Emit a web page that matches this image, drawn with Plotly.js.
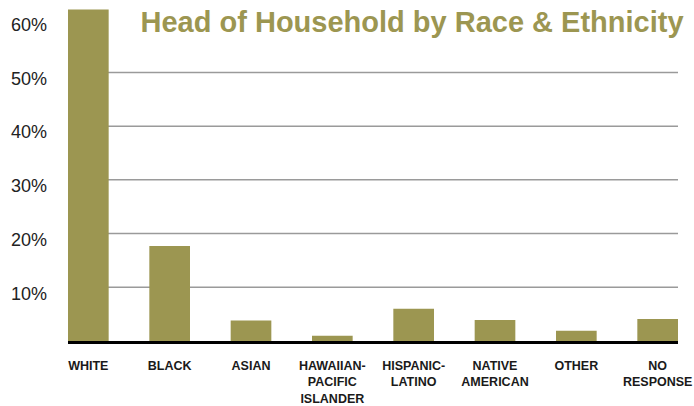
<!DOCTYPE html>
<html><head><meta charset="utf-8">
<script src="https://cdn.plot.ly/plotly-3.0.1.min.js"></script>
<style>html,body{margin:0;padding:0;background:#fff}#chart{width:694px;height:406px}</style>
</head><body><div id="chart"></div>
<script>
const categories = ["WHITE","BLACK","ASIAN","HAWAIIAN-<br>PACIFIC<br>ISLANDER","HISPANIC-<br>LATINO","NATIVE<br>AMERICAN","OTHER","NO<br>RESPONSE"];
const shares = [61.7, 17.7, 3.8, 1.0, 6.0, 3.9, 1.9, 4.1];
const tickValues = [10, 20, 30, 40, 50, 60];
const tickLabels = ["10%","20%","30%","40%","50%","60%"];
const gridValues = [10, 20, 30, 40, 50];
const olive = "#9c9651";

const trace = {
  type: "bar", x: categories.map((c,i)=>i), y: shares,
  marker: {color: olive}, width: 0.5, hoverinfo: "skip"
};
const shapes = gridValues.map(v => ({
  type: "line", xref: "paper", x0: 0, x1: 1, yref: "y", y0: v, y1: v,
  line: {color: "#9a9a9a", width: 1.5}, layer: "below"
}));
const layout = {
  width: 694, height: 406,
  margin: {l: 68, r: 16, t: 8, b: 65},
  paper_bgcolor: "#fff", plot_bgcolor: "#fff",
  showlegend: false,
  title: {text: "<b>Head of Household by Race & Ethnicity</b>", x: 0.985, xanchor: "right", xref: "container", y: 0.945, yanchor: "middle", yref: "container",
    font: {family: "Liberation Sans Narrow, Liberation Sans, Arial, sans-serif", size: 29, color: olive}},
  xaxis: {range: [-0.25, 7.25], tickvals: categories.map((c,i)=>i), ticktext: categories,
    showgrid: false, zeroline: false, showline: true, linecolor: "#000", linewidth: 3,
    ticks: "", ticklabelstandoff: 11, tickangle: 0,
    tickfont: {family: "Liberation Sans, Arial, sans-serif", size: 12.5, color: "#1a1a1a", weight: "bold"}},
  yaxis: {range: [0, 62], tickvals: tickValues, ticktext: tickLabels, showgrid: false, zeroline: false,
    showline: false, ticks: "", ticklabelshift: 6, ticklabelstandoff: 20,
    tickfont: {family: "Liberation Sans, Arial, sans-serif", size: 18, color: "#222"}},
  shapes: shapes
};
Plotly.newPlot("chart", [trace], layout, {displayModeBar: false, staticPlot: true});
</script></body></html>
